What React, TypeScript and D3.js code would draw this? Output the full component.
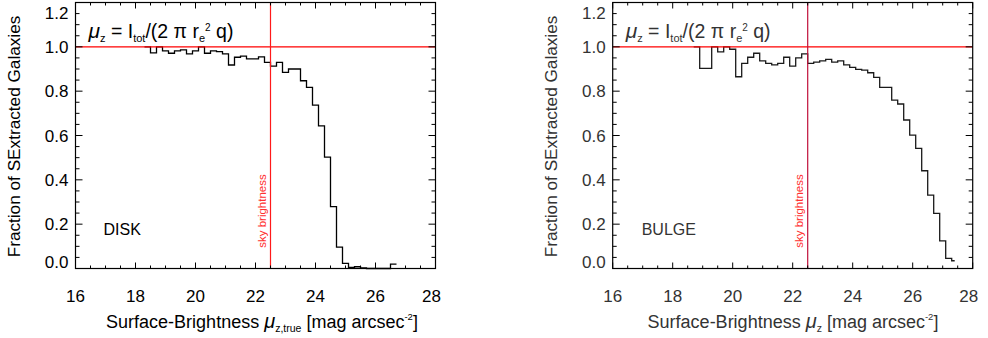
import React from 'react';
import * as d3 from 'd3';

// ---- data ----
const binWidth = 0.2;
const diskStart = 18.3;
const diskFraction = [1.0, 0.973, 1.0, 0.982, 0.971, 0.982, 0.986, 0.968, 0.982, 1.0, 0.971, 0.982, 0.978, 0.968, 0.918, 0.953, 0.958, 0.946, 0.946, 0.955, 0.930, 0.913, 0.930, 0.885, 0.900, 0.900, 0.847, 0.817, 0.737, 0.643, 0.502, 0.279, 0.096, 0.023, 0.005, 0.008, 0.003, 0.0, 0.0, 0.0, 0.0, 0.02];
const diskEnd = 26.7;
const bulgeStart = 18.7;
const bulgeFraction = [1.0, 0.903, 0.903, 1.0, 0.977, 1.0, 0.989, 0.865, 0.925, 0.953, 0.971, 0.937, 0.925, 0.919, 0.925, 0.953, 0.913, 0.95, 0.968, 0.925, 0.931, 0.937, 0.943, 0.931, 0.937, 0.919, 0.907, 0.898, 0.895, 0.883, 0.862, 0.817, 0.817, 0.760, 0.742, 0.670, 0.602, 0.542, 0.441, 0.331, 0.249, 0.125, 0.046, 0.035];
const bulgeEnd = 27.4;
const skyBrightness = 22.5;
const xTicks = [16, 18, 20, 22, 24, 26, 28];
const yTicks = [0.0, 0.2, 0.4, 0.6, 0.8, 1.0, 1.2];

const FONT = "'Liberation Sans', Arial, Helvetica, sans-serif";

type PanelProps = {
  x0: number; x1: number; start: number; end: number; values: number[];
  label: string; sub: string; color: string; textColor: string; skyColor: string; titleX: number; labelDx: number;
};

function Panel({ x0, x1, start, end, values, label, sub, color, textColor, skyColor, titleX, labelDx }: PanelProps) {
  const yTop = 2.5, yBot = 268.5;
  const x = d3.scaleLinear().domain([16, 28]).range([x0, x1]);
  const y = d3.scaleLinear().domain([0, 1.2]).range([yBot, yTop]);
  const pts: [number, number][] = values.map((v, i) => [start + i * binWidth, v]);
  pts.push([end, values[values.length - 1]]);
  const line = d3.line<[number, number]>().x(d => x(d[0])).y(d => y(d[1])).curve(d3.curveStepAfter);
  const xMinor = d3.range(16, 28.001, 0.5);
  const yMinor = d3.range(0, 1.2001, 0.05);
  const ticks: JSX.Element[] = [];
  xMinor.forEach((t, i) => {
    const major = Math.abs(t / 2 - Math.round(t / 2)) < 1e-6;
    const L = major ? 6 : 3;
    const px = x(t);
    ticks.push(<line key={'xb' + i} x1={px} x2={px} y1={yBot} y2={yBot - L} />);
    ticks.push(<line key={'xt' + i} x1={px} x2={px} y1={yTop} y2={yTop + L} />);
  });
  yMinor.forEach((t, i) => {
    const major = Math.abs(t / 0.2 - Math.round(t / 0.2)) < 1e-6;
    const L = major ? 7 : 4;
    const py = y(t);
    ticks.push(<line key={'yl' + i} x1={x0} x2={x0 + L} y1={py} y2={py} />);
    ticks.push(<line key={'yr' + i} x1={x1} x2={x1 - L} y1={py} y2={py} />);
  });
  const sx = x(skyBrightness);
  return (
    <g fontFamily={FONT}>
      <path d={line(pts) || ''} fill="none" stroke={color} strokeWidth={1.3} />
      <line x1={x0} x2={x1} y1={y(1)} y2={y(1)} stroke="#ff0000" strokeWidth={1.3} />
      <line x1={sx} x2={sx} y1={yTop} y2={yBot} stroke={skyColor} strokeWidth={1.2} />
      <rect x={x0} y={yTop} width={x1 - x0} height={yBot - yTop} fill="none" stroke="#000" strokeWidth={1.2} />
      <g stroke="#000" strokeWidth={1}>{ticks}</g>
      {yTicks.map(t => (
        <text key={'yl' + t} x={x0 - 7} y={Math.min(Math.max(y(t), 13), 262) + 6} textAnchor="end" fontSize={17} fill={textColor}>{t.toFixed(1)}</text>
      ))}
      {xTicks.map(t => (
        <text key={'xl' + t} x={Math.min(x(t), x1 - 4)} y={302} textAnchor="middle" fontSize={17} fill={textColor}>{t}</text>
      ))}
      <text transform={`translate(${x0 - 56},${(yTop + yBot) / 2 + 1}) rotate(-90)`} textAnchor="middle" fontSize={17.2} fill={textColor}>Fraction of SExtracted Galaxies</text>
      <text x={titleX} y={328} textAnchor="middle" fontSize={18} fill={textColor}>
        Surface-Brightness <tspan fontStyle="italic" fontSize={20}>μ</tspan><tspan fontSize={10.5} dy={4}>{sub}</tspan><tspan dy={-4}> [mag arcsec</tspan><tspan fontSize={9.5} dy={-8}>-2</tspan><tspan dy={8}>]</tspan>
      </text>
      <text x={x0 + 13} y={38} fontSize={19.5} fill={textColor}>
        <tspan fontStyle="italic" fontSize={21}>μ</tspan><tspan fontSize={11} dy={4}>z</tspan><tspan dy={-4}> = I</tspan><tspan fontSize={11} dy={4}>tot</tspan><tspan dy={-4}>/(2 π r</tspan><tspan fontSize={11} dy={4}>e</tspan><tspan fontSize={10} dy={-11}>2</tspan><tspan dy={7}> q)</tspan>
      </text>
      <text x={x0 + labelDx} y={235} fontSize={16} fill={textColor}>{label}</text>
      <text transform={`translate(${sx - 5},211) rotate(-90)`} textAnchor="middle" fontSize={11.5} fill="#ff3030">sky brightness</text>
    </g>
  );
}

export default function App() {
  return (
    <svg width={988} height={338} style={{ position: 'absolute', left: 0, top: 0, background: '#fff' }}>
      <rect width={988} height={338} fill="#fff" />
      <Panel x0={75.5} x1={435.5} start={diskStart} end={diskEnd} values={diskFraction} label="DISK" sub="z,true"
        color="#000" textColor="#000" skyColor="#ff1a1a" titleX={262} labelDx={28} />
      <Panel x0={612.7} x1={972.7} start={bulgeStart} end={bulgeEnd} values={bulgeFraction} label="BULGE" sub="z"
        color="#1a1a1a" textColor="#333" skyColor="#c0103a" titleX={793} labelDx={29} />
    </svg>
  );
}
